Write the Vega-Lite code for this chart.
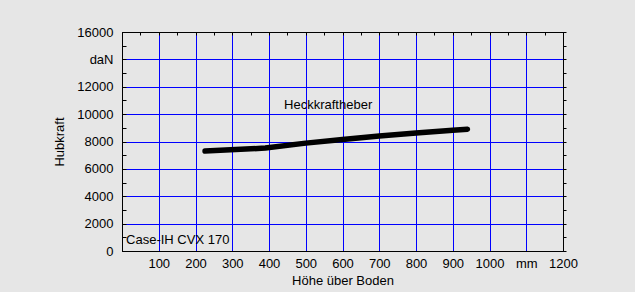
{
  "$schema": "https://vega.github.io/schema/vega-lite/v6.json",
  "width": 441,
  "height": 219,
  "autosize": {"type": "none"},
  "padding": {"left": 122, "top": 32, "right": 72, "bottom": 41},
  "background": "#e6e6e6",
  "config": {
    "font": "Liberation Sans",
    "view": {"stroke": "black", "strokeWidth": 1, "fill": "#e6e6e6"},
    "axis": {
      "labelFont": "Liberation Sans",
      "labelFontSize": 13,
      "labelColor": "black",
      "titleFont": "Liberation Sans",
      "titleFontSize": 13,
      "titleFontWeight": "normal",
      "titleColor": "black",
      "domainColor": "black",
      "tickColor": "black",
      "gridColor": "#0000ff",
      "gridOpacity": 1,
      "gridWidth": 1
    }
  },
  "datasets": {
    "curve": [
      {"hoehe": 226, "kraft": 7300},
      {"hoehe": 390, "kraft": 7520},
      {"hoehe": 500, "kraft": 7880},
      {"hoehe": 600, "kraft": 8150},
      {"hoehe": 700, "kraft": 8400},
      {"hoehe": 800, "kraft": 8620},
      {"hoehe": 900, "kraft": 8820},
      {"hoehe": 940, "kraft": 8900}
    ],
    "notes": [
      {"hoehe": 441, "kraft": 10370, "label": "Heckkraftheber"},
      {"hoehe": 11, "kraft": 520, "label": "Case-IH CVX 170"}
    ]
  },
  "layer": [
    {
      "data": {"name": "curve"},
      "mark": {"type": "line", "color": "black", "strokeWidth": 5.5, "strokeCap": "round", "strokeJoin": "round"},
      "encoding": {
        "x": {
          "field": "hoehe",
          "type": "quantitative",
          "scale": {"domain": [0, 1200], "nice": false, "zero": false},
          "axis": {
            "orient": "bottom",
            "title": "Höhe über Boden",
            "values": [100, 200, 300, 400, 500, 600, 700, 800, 900, 1000, 1100, 1200],
            "format": "d",
            "labelExpr": "datum.value == 1100 ? 'mm' : datum.label",
            "ticks": false,
            "grid": true,
            "domain": true,
            "labelPadding": 6,
            "titlePadding": 4,
            "labelFlush": false,
            "labelOverlap": false
          }
        },
        "y": {
          "field": "kraft",
          "type": "quantitative",
          "scale": {"domain": [0, 16000], "nice": false, "zero": false},
          "axis": {
            "orient": "left",
            "title": "Hubkraft",
            "values": [0, 1000, 2000, 3000, 4000, 5000, 6000, 7000, 8000, 9000, 10000, 11000, 12000, 13000, 14000, 15000, 16000],
            "format": "d",
            "labelExpr": "datum.value % 2000 != 0 ? '' : (datum.value == 14000 ? 'daN' : datum.label)",
            "gridColor": {"condition": {"test": "datum.value % 2000 == 0 && datum.value > 0 && datum.value < 16000", "value": "#0000ff"}, "value": "transparent"},
            "ticks": true,
            "tickSize": -4,
            "labelPadding": 13,
            "titlePadding": 10,
            "grid": true,
            "domain": true,
            "labelFlush": false,
            "labelOverlap": false
          }
        }
      }
    },
    {
      "data": {"name": "notes"},
      "mark": {"type": "text", "align": "left", "baseline": "alphabetic", "fontSize": 13, "font": "Liberation Sans", "color": "black"},
      "encoding": {
        "x": {
          "field": "hoehe",
          "type": "quantitative",
          "scale": {"domain": [0, 1200], "nice": false, "zero": false},
          "axis": {
            "orient": "top",
            "title": null,
            "values": [0, 50, 100, 150, 200, 250, 300, 350, 400, 450, 500, 550, 600, 650, 700, 750, 800, 850, 900, 950, 1000, 1050, 1100, 1150, 1200],
            "labels": false,
            "grid": false,
            "ticks": true,
            "tickSize": -3,
            "domain": true
          }
        },
        "y": {
          "field": "kraft",
          "type": "quantitative",
          "scale": {"domain": [0, 16000], "nice": false, "zero": false},
          "axis": {
            "orient": "right",
            "title": null,
            "values": [0, 1000, 2000, 3000, 4000, 5000, 6000, 7000, 8000, 9000, 10000, 11000, 12000, 13000, 14000, 15000, 16000],
            "labels": false,
            "grid": false,
            "ticks": true,
            "tickSize": 3,
            "domain": true
          }
        },
        "text": {"field": "label", "type": "nominal"}
      }
    }
  ],
  "resolve": {"scale": {"x": "independent", "y": "independent"}, "axis": {"x": "independent", "y": "independent"}}
}
